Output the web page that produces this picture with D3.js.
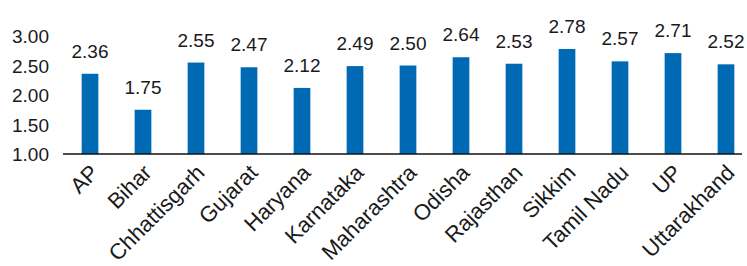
<!DOCTYPE html>
<html>
<head>
<meta charset="utf-8">
<script src="https://cdn.jsdelivr.net/npm/d3@7"></script>
<style>
  html, body { margin: 0; padding: 0; background: #ffffff; }
  svg { display: block; }
  text { font-family: "Liberation Sans", Arial, sans-serif; fill: #1a1a1a; }
</style>
</head>
<body>
<svg id="chart" width="747" height="266"></svg>
<script>
const categories = ["AP", "Bihar", "Chhattisgarh", "Gujarat", "Haryana", "Karnataka", "Maharashtra", "Odisha", "Rajasthan", "Sikkim", "Tamil Nadu", "UP", "Uttarakhand"];
const values = [2.36, 1.75, 2.55, 2.47, 2.12, 2.49, 2.50, 2.64, 2.53, 2.78, 2.57, 2.71, 2.52];
const yTicks = [1.00, 1.50, 2.00, 2.50, 3.00];

const svg = d3.select("#chart");
const x = d3.scaleBand().domain(categories).range([63.5, 752.5]).paddingInner(0).paddingOuter(0);
const y = d3.scaleLinear().domain([1, 3]).range([154, 36]);
const barW = x.bandwidth() * 0.315;

svg.append("g").selectAll("rect").data(categories).join("rect")
  .attr("x", (d) => x(d) + x.bandwidth() / 2 - barW / 2)
  .attr("width", barW)
  .attr("y", (d, i) => y(values[i]))
  .attr("height", (d, i) => y(1) - y(values[i]))
  .attr("fill", "#0069b4");

// value labels
svg.append("g").selectAll("text").data(categories).join("text")
  .attr("x", (d) => x(d) + x.bandwidth() / 2)
  .attr("y", (d, i) => y(values[i]) - 16)
  .attr("text-anchor", "middle")
  .attr("font-size", 19)
  .text((d, i) => values[i].toFixed(2));

// y axis labels
const yAxis = d3.axisLeft(y).tickValues(yTicks).tickFormat(d3.format(".2f")).tickSize(0).tickPadding(0);
const gy = svg.append("g").attr("transform", "translate(49,0)").call(yAxis);
gy.select(".domain").remove();
gy.selectAll("text").attr("font-size", 19).attr("font-family", "Liberation Sans, Arial, sans-serif").attr("fill", "#1a1a1a").attr("dy", "0.36em");

// x axis
const xAxis = d3.axisBottom(x).tickSize(0).tickPadding(0);
const gx = svg.append("g").attr("transform", `translate(0,${y(1)})`).call(xAxis);
gx.select(".domain").remove();
gx.selectAll("text")
  .attr("font-size", 22)
  .attr("font-family", "Liberation Sans, Arial, sans-serif")
  .attr("fill", "#1a1a1a")
  .attr("text-anchor", "end")
  .attr("dy", 0)
  .attr("y", 0)
  .attr("transform", (d) => `translate(10,20) rotate(-45)`);

svg.append("line")
  .attr("x1", 63).attr("x2", 742)
  .attr("y1", y(1)).attr("y2", y(1))
  .attr("stroke", "#111").attr("stroke-width", 1.5);
</script>
</body>
</html>
